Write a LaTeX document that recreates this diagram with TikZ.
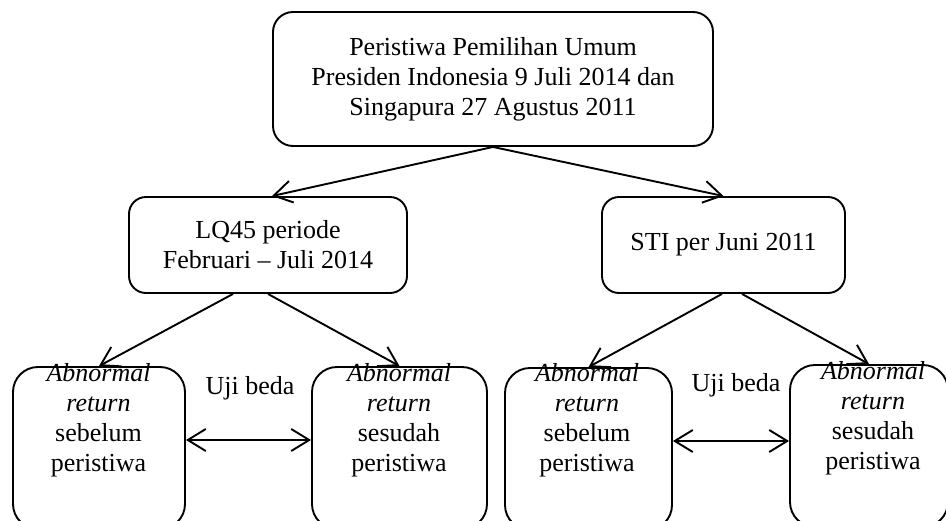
\documentclass[tikz,border=0pt]{standalone}
\usepackage{fontspec}
\setmainfont{Liberation Serif}
\usetikzlibrary{arrows.meta}
\begin{document}
\begin{tikzpicture}[x=1pt,y=-1pt,
  every node/.style={font=\fontsize{26}{30}\selectfont, align=center},
  topbox/.style={draw, line width=1.9pt, rounded corners=20pt, minimum width=440pt, minimum height=134pt, inner sep=0pt},
  midbox/.style={draw, line width=1.9pt, rounded corners=17pt, minimum height=96pt, inner sep=0pt},
  botbox/.style={draw, line width=1.9pt, rounded corners=25pt, minimum height=162pt, inner sep=0pt},
  bottext/.style={anchor=north, inner sep=0pt},
  tipv/.tip={Straight Barb[length=18pt,width=22pt]},
  conn/.style={line width=1.9pt, -tipv},
  both/.style={line width=1.9pt, tipv-tipv}
]
\useasboundingbox (0,0) rectangle (946,520);
\clip (0,0) rectangle (946,520);

\node[topbox] (top) at (493,79) {Peristiwa Pemilihan Umum\\Presiden Indonesia 9 Juli 2014 dan\\Singapura 27 Agustus 2011};
\node[midbox, minimum width=278pt] (lq) at (268,245) {LQ45 periode\\Februari – Juli 2014};
\node[midbox, minimum width=243pt] (sti) at (723.5,245) {STI per Juni 2011};

\node[botbox, minimum width=172pt] (b1) at (99,448) {};
\node[botbox, minimum width=175pt] (b2) at (399.5,448) {};
\node[botbox, minimum width=167pt] (b3) at (588.5,449) {};
\node[botbox, minimum width=158pt] (b4) at (869,446) {};

\node[bottext] (t1) at (98.5,363) {\textit{Abnormal}\\\textit{return}\\sebelum\\peristiwa};
\node[bottext] (t2) at (399,363) {\textit{Abnormal}\\\textit{return}\\sesudah\\peristiwa};
\node[bottext] (t3) at (587,363) {\textit{Abnormal}\\\textit{return}\\sebelum\\peristiwa};
\node[bottext] (t4) at (873,361) {\textit{Abnormal}\\\textit{return}\\sesudah\\peristiwa};

\node[anchor=base] (u1) at (250,394) {Uji beda};
\node[anchor=base] (u2) at (736,391) {Uji beda};

\draw[conn] (top.south) -- ([xshift=4pt]lq.north);
\draw[conn] (top.south) -- (sti.north);
\draw[conn] ([xshift=-35pt]lq.south) -- (b1.north);
\draw[conn] (lq.south) -- (b2.north);
\draw[conn] ([xshift=-1.5pt]sti.south) -- (b3.north);
\draw[conn] ([xshift=18.5pt]sti.south) -- (b4.north);

\draw[both] ([yshift=8pt]b1.east) -- ([yshift=8pt]b1.east -| b2.west);
\draw[both] ([yshift=8pt]b3.east) -- ([yshift=8pt]b3.east -| b4.west);
\end{tikzpicture}
\end{document}
